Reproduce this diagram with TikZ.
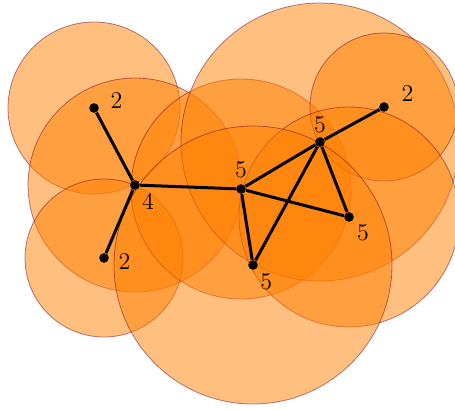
\documentclass[tikz,border=0pt]{standalone}
\begin{document}
\begin{tikzpicture}[x=0.5pt, y=-0.5pt,
        disco/.style={fill=orange, draw=purple!60!black, line width=0.4pt, opacity=0.5},
        vert/.style={circle, fill=black, inner sep=0pt, minimum size=4.8pt},
        every label/.style={font=\fontsize{12.5}{15}\selectfont, inner sep=2pt}]
                \useasboundingbox (0,0) rectangle (455,408);

                % Discos
                \filldraw[disco] (94,108) circle[radius=86];
                \filldraw[disco] (135,185) circle[radius=107];
                \filldraw[disco] (104,258) circle[radius=79];
                \filldraw[disco] (241,189) circle[radius=110];
                \filldraw[disco] (320,142) circle[radius=139];
                \filldraw[disco] (384,107) circle[radius=74];
                \filldraw[disco] (349,217) circle[radius=110];
                \filldraw[disco] (253,265) circle[radius=139];

                % Vertices
                \node[vert, label={[label distance=3.5pt, yshift=3.5pt]0:$2$}] (a) at (94,108) {};
                \node[vert, label=-60:$4$] (b) at (135,185) {};
                \node[vert, label={[label distance=2.5pt, yshift=-2pt]0:$2$}] (c) at (104,258) {};
                \node[vert, label={[label distance=1pt]90:$5$}] (d) at (241,189) {};
                \node[vert, label=90:$5$] (e) at (320,142) {};
                \node[vert, label={[label distance=4pt, yshift=6.5pt]0:$2$}] (f) at (384,107) {};
                \node[vert, label=-45:$5$] (g) at (349,217) {};
                \node[vert, label=-55:$5$] (h) at (253,265) {};

                % Aristas
                \draw[line width=1.5pt] (a) -- (b) -- (c);
                \draw[line width=1.5pt] (b) -- (d) -- (e) -- (f);
                \draw[line width=1.5pt] (d) -- (g) -- (e) -- (h) -- (d);

            \end{tikzpicture}
\end{document}
